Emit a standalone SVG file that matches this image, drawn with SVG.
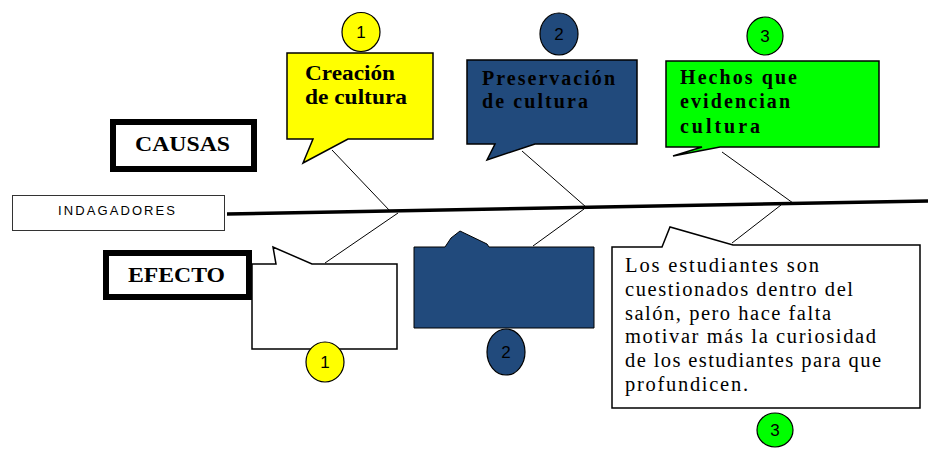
<svg xmlns="http://www.w3.org/2000/svg" width="928" height="450" viewBox="0 0 928 450">
<style>
.bg{fill:#fff}
.callout{stroke:#000;stroke-width:1.5}
.num{stroke:#000;stroke-width:1.2}
.numt{font-family:"Liberation Sans",Arial,sans-serif;font-size:17px;text-anchor:middle}
.head{font-family:"Liberation Serif","Times New Roman",serif;font-weight:bold;font-size:20px;fill:#000}
.label{font-family:"Liberation Serif","Times New Roman",serif;font-weight:bold;font-size:21px}
.body{font-family:"Liberation Serif","Times New Roman",serif;font-size:20.5px;fill:#000}
.thin{stroke:#000;stroke-width:1;fill:none}
</style>
<rect class="bg" width="928" height="450"/>

<g id="connectors">
  <line x1="227" y1="214" x2="928" y2="201" stroke="#000" stroke-width="3.5"/>
  <line class="thin" x1="332" y1="150" x2="390" y2="211"/>
  <line class="thin" x1="522" y1="151" x2="586" y2="207"/>
  <line class="thin" x1="722" y1="152" x2="793" y2="203"/>
  <line class="thin" x1="398" y1="213" x2="325" y2="263"/>
  <line class="thin" x1="584" y1="209" x2="533" y2="246"/>
  <line class="thin" x1="781" y1="205" x2="732" y2="243"/>
</g>

<g id="causas">
  <rect x="113" y="122" width="141" height="47" fill="#fff" stroke="#000" stroke-width="6"/>
  <text class="label" x="135" y="151" textLength="95" lengthAdjust="spacingAndGlyphs">CAUSAS</text>
</g>

<g id="indagadores">
  <rect x="12.5" y="195.5" width="212" height="35" fill="#fff" stroke="#333" stroke-width="1"/>
  <text x="58" y="215" font-family="Liberation Sans,Arial,sans-serif" font-size="13" textLength="117" lengthAdjust="spacing">INDAGADORES</text>
</g>

<g id="efecto">
  <rect x="106" y="253" width="143" height="44" fill="#fff" stroke="#000" stroke-width="6"/>
  <text class="label" x="128" y="282" textLength="97" lengthAdjust="spacingAndGlyphs">EFECTO</text>
</g>

<g id="cause1">
  <ellipse class="num" cx="361" cy="32" rx="19" ry="19.5" fill="#ffff00"/>
  <text class="numt" x="361" y="38">1</text>
  <path class="callout" fill="#ffff00" d="M287,53 H433 V139 H348 L303,163 L313,139 H287 Z"/>
  <text class="head" x="305" y="80" textLength="90" lengthAdjust="spacingAndGlyphs">Creación</text>
  <text class="head" x="305" y="104" textLength="102" lengthAdjust="spacingAndGlyphs">de cultura</text>
</g>

<g id="cause2">
  <ellipse class="num" cx="559" cy="34" rx="19" ry="21" fill="#214a7c"/>
  <text class="numt" x="559" y="40" font-family="Liberation Serif,serif">2</text>
  <path class="callout" fill="#214a7c" d="M467,60 H637 V144 H535 L487,160 L495,144 H467 Z"/>
  <text class="head" x="482" y="85" textLength="133" lengthAdjust="spacing">Preservación</text>
  <text class="head" x="482" y="108" textLength="106" lengthAdjust="spacing">de cultura</text>
</g>

<g id="cause3">
  <ellipse class="num" cx="765" cy="36" rx="18" ry="19" fill="#00ff00"/>
  <text class="numt" x="765" y="42">3</text>
  <path class="callout" fill="#00ff00" d="M666,61 H879 V147 H720 L673,156 L702,147 H666 Z"/>
  <text class="head" x="680" y="84" textLength="117" lengthAdjust="spacing">Hechos que</text>
  <text class="head" x="680" y="108" textLength="110" lengthAdjust="spacing">evidencian</text>
  <text class="head" x="680" y="133" textLength="80" lengthAdjust="spacing">cultura</text>
</g>

<g id="effect1">
  <path class="callout" fill="#fff" d="M252,264 H276 L273,247 L312,264 H397 V349 H252 Z" stroke-width="1.2"/>
  <ellipse class="num" cx="325" cy="362" rx="19" ry="20" fill="#ffff00"/>
  <text class="numt" x="325" y="368" font-family="Liberation Serif,serif">1</text>
</g>

<g id="effect2">
  <path fill="#214a7c" stroke="#000" stroke-width="1" d="M414,247 H445 L451,238 L460,231 L487,244 L489,247 H594 V328 H414 Z"/>
  <ellipse class="num" cx="506" cy="352" rx="19" ry="23" fill="#214a7c"/>
  <text class="numt" x="506" y="358" font-family="Liberation Serif,serif">2</text>
</g>

<g id="effect3">
  <path class="callout" fill="#fff" d="M612,247 H662 L670,227 L733,245 H920 V408 H612 Z" stroke-width="1.2"/>
  <text class="body" x="625" y="272" textLength="194" lengthAdjust="spacing">Los estudiantes son</text>
  <text class="body" x="625" y="296" textLength="228" lengthAdjust="spacing">cuestionados dentro del</text>
  <text class="body" x="625" y="320" textLength="206" lengthAdjust="spacing">salón, pero hace falta</text>
  <text class="body" x="625" y="343" textLength="251" lengthAdjust="spacing">motivar más la curiosidad</text>
  <text class="body" x="625" y="367" textLength="256" lengthAdjust="spacing">de los estudiantes para que</text>
  <text class="body" x="625" y="391" textLength="123" lengthAdjust="spacing">profundicen.</text>
  <ellipse class="num" cx="775" cy="430" rx="18" ry="17" fill="#00ff00"/>
  <text class="numt" x="775" y="436">3</text>
</g>
</svg>
